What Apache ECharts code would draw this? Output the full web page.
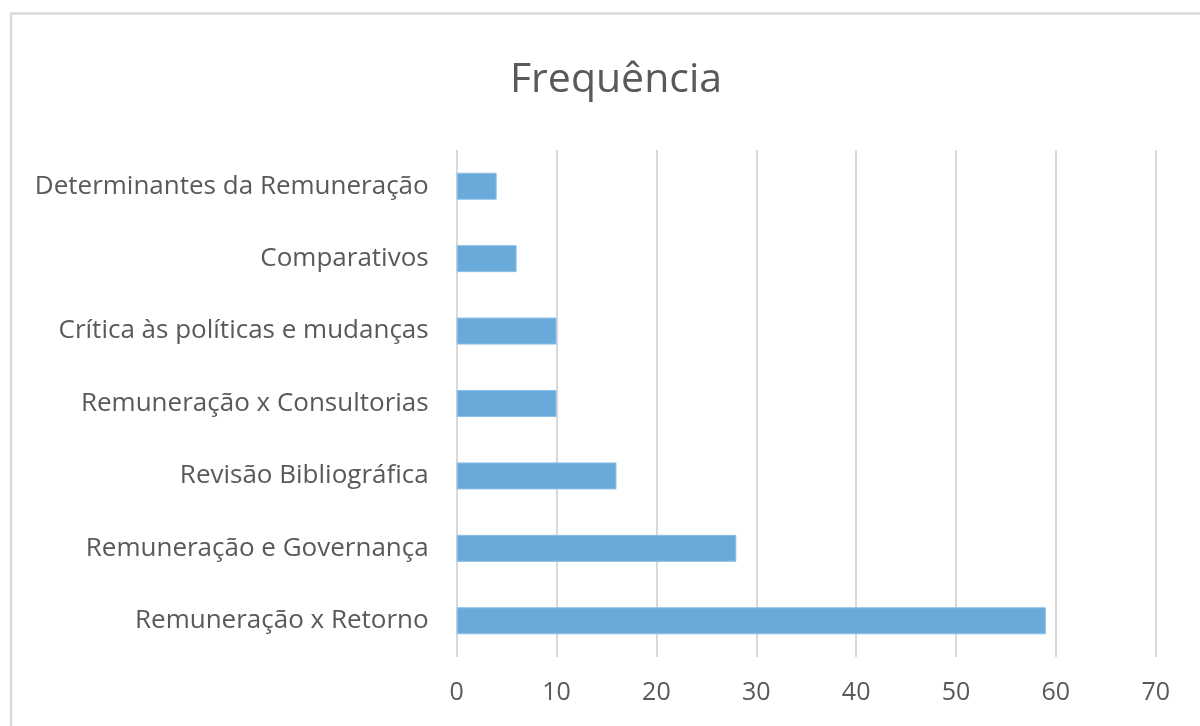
<!DOCTYPE html>
<html><head><meta charset="utf-8">
<script src="https://cdn.jsdelivr.net/npm/echarts@6/dist/echarts.min.js"></script>
<style>html,body{margin:0;padding:0;background:#fff}#c{width:1200px;height:726px}</style>
</head><body><div id="c"></div>
<script>
const titleText = "Frequência";
const categories = ["Remuneração x Retorno","Remuneração e Governança","Revisão Bibliográfica","Remuneração x Consultorias","Crítica às políticas e mudanças","Comparativos","Determinantes da Remuneração"];
const values = [59, 28, 16, 10, 10, 6, 4];
const xTicks = [0,10,20,30,40,50,60,70];

const chart = echarts.init(document.getElementById('c'), null, {renderer:'canvas'});
const font = "'Open Sans', sans-serif";
chart.setOption({
  animation:false,
  backgroundColor:'#fff',
  graphic:[{type:'rect', shape:{x:11, y:13.5, width:1400, height:1000}, style:{fill:'none', stroke:'#d9d9d9', lineWidth:2.5}, silent:true}],
  title:{text:titleText, left:611, top:55, textAlign:'center', textStyle:{fontFamily:font, fontSize:41, fontWeight:'normal', color:'#595959'}},
  grid:{left:456.7, right:44.3, top:150, bottom:69, containLabel:false},
  xAxis:{type:'value', min:0, max:70, interval:10,
    axisLine:{show:false}, axisTick:{show:false},
    axisLabel:{fontFamily:font, fontSize:25, color:'#595959', margin:23, formatter:v=>xTicks.includes(v)?String(v):''},
    splitLine:{show:true, lineStyle:{color:'#d9d9d9', width:2}}},
  yAxis:{type:'category', data:categories,
    axisLine:{show:false}, axisTick:{show:false},
    axisLabel:{fontFamily:font, fontSize:26, color:'#595959', margin:28, padding:[10,0,0,0]}},
  series:[{type:'bar', data:values, barWidth:27, itemStyle:{color:'#6aaadb', borderColor:'#8cbfe6', borderWidth:1}}]
});
</script></body></html>
